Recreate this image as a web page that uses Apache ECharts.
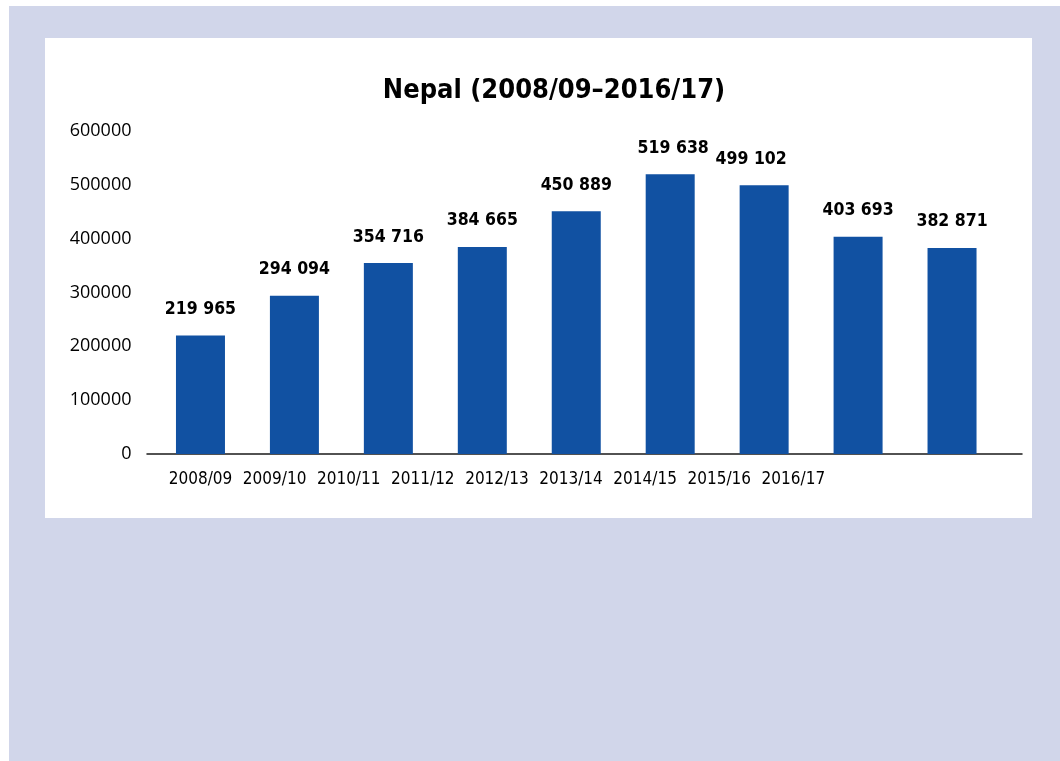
<!DOCTYPE html>
<html>
<head>
<meta charset="utf-8">
<title>Nepal (2008/09–2016/17)</title>
<script src="https://cdn.jsdelivr.net/npm/echarts@6/dist/echarts.min.js"></script>
<style>
  html, body { margin: 0; padding: 0; background: #ffffff; }
  #chart { width: 1060px; height: 761px; }
</style>
</head>
<body>
<div id="chart"></div>
<script>
// Fiscal years and values per year
const years = ['2008/09', '2009/10', '2010/11', '2011/12', '2012/13', '2013/14', '2014/15', '2015/16', '2016/17'];
const values = [219965, 294094, 354716, 384665, 450889, 519638, 499102, 403693, 382871];
const titleText = 'Nepal (2008/09–2016/17)';

const BAR = '#1151A2';
const CONDENSED = '"DejaVu Sans Condensed", "DejaVu Sans", sans-serif';

// "219965" -> "219 965"
function spaced(v) {
  return String(v).replace(/\B(?=(\d{3})+(?!\d))/g, ' ');
}

// small horizontal nudges so neighbouring value labels do not collide
const labelNudge = { 5: 3, 6: -13 };

const chart = echarts.init(document.getElementById('chart'), null, { renderer: 'canvas' });

chart.setOption({
  backgroundColor: '#ffffff',
  animation: false,
  graphic: [
    { type: 'rect', z: -20, silent: true,
      shape: { x: 9, y: 6, width: 1051, height: 755 },
      style: { fill: '#D1D6EA' } },
    { type: 'rect', z: -10, silent: true,
      shape: { x: 45, y: 38, width: 987, height: 480 },
      style: { fill: '#ffffff' } }
  ],
  title: {
    text: titleText,
    left: 549,
    top: 72,
    textAlign: 'center',
    textStyle: { fontFamily: CONDENSED, fontWeight: 'bold', fontSize: 27, color: '#000' }
  },
  grid: [
    // bars
    { left: 153.5, right: 61, top: 131, bottom: 307, containLabel: false },
    // baseline
    { left: 147, right: 38, top: 131, bottom: 307, containLabel: false },
    // category labels
    { left: 163.45, right: 229.6, top: 131, bottom: 307, containLabel: false }
  ],
  xAxis: [
    { type: 'category', gridIndex: 0, data: years,
      axisLine: { show: false }, axisTick: { show: false }, axisLabel: { show: false },
      splitLine: { show: false } },
    { type: 'value', gridIndex: 1, min: 0, max: 1,
      axisLine: { show: true, onZero: false, lineStyle: { color: '#1a1a1a', width: 1.5 } },
      axisTick: { show: false }, axisLabel: { show: false }, splitLine: { show: false } },
    { type: 'category', gridIndex: 2, data: years,
      axisLine: { show: false }, axisTick: { show: false }, splitLine: { show: false },
      axisLabel: { show: true, interval: 0, margin: 17, color: '#000',
        fontFamily: CONDENSED, fontSize: 17 } }
  ],
  yAxis: [
    { type: 'value', gridIndex: 0, min: 0, max: 600000, interval: 100000,
      axisLine: { show: false }, axisTick: { show: false }, splitLine: { show: false },
      axisLabel: { margin: 22, color: '#000', fontFamily: '"Open Sans", sans-serif', fontSize: 18,
        formatter: v => String(v) } },
    { type: 'value', gridIndex: 1, min: 0, max: 1, show: false },
    { type: 'value', gridIndex: 2, min: 0, max: 1, show: false }
  ],
  series: [{
    type: 'bar',
    xAxisIndex: 0,
    yAxisIndex: 0,
    barWidth: 49,
    itemStyle: { color: BAR },
    label: {
      show: true,
      position: 'top',
      distance: 17,
      color: '#000',
      fontFamily: CONDENSED,
      fontWeight: 'bold',
      fontSize: 17.5,
      formatter: p => spaced(p.value)
    },
    data: values.map((v, i) => labelNudge[i] !== undefined
      ? { value: v, label: { offset: [labelNudge[i], 0] } }
      : v)
  }]
});
</script>
</body>
</html>
